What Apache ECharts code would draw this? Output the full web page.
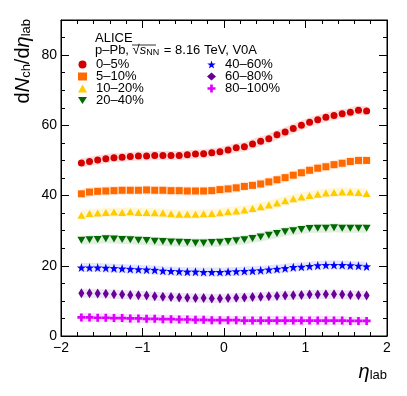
<!DOCTYPE html>
<html>
<head>
<meta charset="utf-8">
<script src="https://cdn.jsdelivr.net/npm/echarts@6/dist/echarts.min.js"></script>
<style>
  html, body { margin: 0; padding: 0; background: #fff; }
  #chart { width: 407px; height: 396px; }
</style>
</head>
<body>
<div id="chart"></div>
<script>
// eta_lab bin centres
const etaBins = [-1.75, -1.65, -1.55, -1.45, -1.35, -1.25, -1.15, -1.05, -0.95, -0.85, -0.75, -0.65,
  -0.55, -0.45, -0.35, -0.25, -0.15, -0.05, 0.05, 0.15, 0.25, 0.35, 0.45, 0.55,
  0.65, 0.75, 0.85, 0.95, 1.05, 1.15, 1.25, 1.35, 1.45, 1.55, 1.65, 1.75]

const c0_5 = [49.3, 49.7, 50.1, 50.5, 50.8, 50.9, 51.1, 51.3, 51.3, 51.4, 51.4, 51.4, 51.4, 51.6, 51.8, 51.9, 52.2, 52.5,
  53.0, 53.6, 53.9, 54.7, 55.5, 56.2, 57.3, 58.1, 59.1, 60.0, 60.9, 61.6, 62.3, 62.8, 63.3, 63.7, 64.3, 64.1]
const c5_10 = [40.5, 41.0, 41.2, 41.3, 41.4, 41.5, 41.5, 41.5, 41.6, 41.5, 41.5, 41.4, 41.4, 41.3, 41.3, 41.3, 41.4, 41.7,
  41.9, 42.2, 42.6, 42.9, 43.3, 43.9, 44.5, 45.1, 45.8, 46.5, 47.2, 47.8, 48.2, 48.8, 49.2, 49.7, 50.0, 50.0]
const c10_20 = [34.4, 34.9, 35.0, 35.2, 35.3, 35.2, 35.4, 35.2, 35.2, 35.1, 35.0, 34.8, 34.7, 34.7, 34.7, 34.8, 34.9, 35.1,
  35.4, 35.6, 35.9, 36.3, 36.8, 37.3, 37.9, 38.5, 39.1, 39.6, 40.0, 40.4, 40.7, 40.9, 41.0, 41.0, 40.9, 40.6]
const c20_40 = [27.3, 27.4, 27.5, 27.7, 27.6, 27.5, 27.4, 27.3, 27.2, 27.0, 26.9, 26.8, 26.7, 26.6, 26.5, 26.5, 26.6, 26.7,
  26.9, 27.1, 27.4, 27.8, 28.2, 28.7, 29.2, 29.7, 30.0, 30.3, 30.6, 30.7, 30.7, 30.8, 30.7, 30.7, 30.7, 30.7]
const c40_60 = [19.5, 19.5, 19.5, 19.4, 19.3, 19.2, 19.1, 19.0, 18.9, 18.8, 18.6, 18.5, 18.4, 18.3, 18.3, 18.2, 18.2, 18.2,
  18.3, 18.4, 18.5, 18.6, 18.7, 18.9, 19.1, 19.3, 19.6, 19.7, 19.9, 20.1, 20.2, 20.2, 20.2, 20.1, 20.0, 19.8]
const c60_80 = [12.2, 12.2, 12.1, 12.0, 11.9, 11.8, 11.7, 11.6, 11.5, 11.3, 11.2, 11.1, 11.0, 10.9, 10.8, 10.8, 10.7, 10.7,
  10.8, 10.9, 11.0, 11.1, 11.2, 11.3, 11.4, 11.5, 11.6, 11.7, 11.8, 11.8, 11.9, 11.9, 11.8, 11.7, 11.6, 11.5]
const c80_100 = [5.3, 5.3, 5.2, 5.2, 5.1, 5.1, 5.0, 5.0, 4.9, 4.9, 4.8, 4.8, 4.7, 4.7, 4.6, 4.6, 4.5, 4.5,
  4.5, 4.5, 4.4, 4.4, 4.4, 4.4, 4.4, 4.4, 4.4, 4.4, 4.4, 4.4, 4.4, 4.4, 4.4, 4.3, 4.3, 4.3]

const classNames = ['0–5%', '5–10%', '10–20%', '20–40%', '40–60%', '60–80%', '80–100%']
const classValues = [c0_5, c5_10, c10_20, c20_40, c40_60, c60_80, c80_100]

const xTicks = [-2, -1, 0, 1, 2]
const yTicks = [0, 20, 40, 60, 80]

const FONT = 'Liberation Sans'

const markers = [
  { color: '#d40000', band: 'rgba(212,0,0,0.14)', symbol: 'circle', size: 7 },
  { color: '#ff6a00', band: 'rgba(255,106,0,0.14)', symbol: 'rect', size: 7 },
  { color: '#ffcc00', band: 'rgba(255,204,0,0.16)', symbol: 'triangle', size: [8, 7] },
  { color: '#006a00', band: 'rgba(0,120,0,0.12)', symbol: 'path://M-5,-4 L5,-4 L0,4 Z', size: [8, 7] },
  { color: '#0000ff', band: 'rgba(0,0,255,0.10)', symbol: 'path://M0,-10 L2.35,-3.24 L9.51,-3.09 L3.8,1.24 L5.88,8.09 L0,4 L-5.88,8.09 L-3.8,1.24 L-9.51,-3.09 L-2.35,-3.24 Z', size: 9 },
  { color: '#660099', band: 'rgba(102,0,153,0.10)', symbol: 'diamond', size: [6, 10] },
  { color: '#dd00ff', band: 'rgba(221,0,255,0.12)', symbol: 'path://M-1,-3 L1,-3 L1,-1 L3,-1 L3,1 L1,1 L1,3 L-1,3 L-1,1 L-3,1 L-3,-1 L-1,-1 Z', size: 8 },
]

const chart = echarts.init(document.getElementById('chart'))

const bandSeries = classValues.map((vals, i) => ({
  type: 'line',
  silent: true,
  smooth: true,
  showSymbol: false,
  data: etaBins.map((x, k) => [x, vals[k]]),
  lineStyle: { color: markers[i].band, width: 9 },
  z: 1,
}))

const pointSeries = classValues.map((vals, i) => ({
  name: classNames[i],
  type: 'scatter',
  data: etaBins.map((x, k) => [x, vals[k]]),
  symbol: markers[i].symbol,
  symbolSize: markers[i].size,
  itemStyle: { color: markers[i].color, opacity: 1 },
  z: 3,
}))

const minus = (v) => String(v).replace('-', '−')

const legendCommon = {
  orient: 'vertical',
  itemWidth: 9,
  itemHeight: 8,
  itemGap: -1,
  selectedMode: false,
  textStyle: { fontFamily: FONT, fontSize: 13, color: '#000', padding: [0, 0, 0, 4] },
}

// shared frame-axis styling (ROOT-like ticks inside on all four sides)
const tickStyle = {
  axisLine: { show: true, onZero: false, lineStyle: { color: '#000' } },
  axisTick: { inside: true, length: 8, lineStyle: { color: '#000' } },
  splitLine: { show: false },
}

chart.setOption({
  animation: false,
  grid: { left: 61, right: 20, top: 20, bottom: 60, show: true, borderColor: '#000', borderWidth: 1 },
  xAxis: [
    Object.assign({
      type: 'value', min: xTicks[0], max: xTicks[xTicks.length - 1], interval: 1,
      minorTick: { show: true, splitNumber: 5, length: 4, lineStyle: { color: '#000' } },
      axisLabel: { fontFamily: FONT, fontSize: 14, color: '#000', margin: 5, formatter: minus },
    }, tickStyle),
    Object.assign({
      type: 'value', position: 'top', min: xTicks[0], max: xTicks[xTicks.length - 1], interval: 1,
      minorTick: { show: true, splitNumber: 5, length: 4, lineStyle: { color: '#000' } },
      axisLabel: { show: false },
    }, tickStyle),
  ],
  yAxis: [
    Object.assign({
      type: 'value', min: yTicks[0], max: 90, interval: 20,
      minorTick: { show: true, splitNumber: 4, length: 4, lineStyle: { color: '#000' } },
      axisLabel: { fontFamily: FONT, fontSize: 14, color: '#000', margin: 4, showMaxLabel: false },
    }, tickStyle),
    Object.assign({
      type: 'value', position: 'right', min: yTicks[0], max: 90, interval: 20,
      minorTick: { show: true, splitNumber: 4, length: 4, lineStyle: { color: '#000' } },
      axisLabel: { show: false },
    }, tickStyle),
  ],
  legend: [
    Object.assign({ left: 73, top: 53, data: classNames.slice(0, 4) }, legendCommon),
    Object.assign({ left: 202, top: 53, data: classNames.slice(4) }, legendCommon),
  ],
  graphic: [
    {
      type: 'text', left: 95, top: 32,
      style: { text: 'ALICE', fontFamily: FONT, fontSize: 13, fill: '#000' },
    },
    {
      type: 'text', left: 95, top: 44,
      style: {
        text: '{n|p–Pb, √}{i|s}{s|NN}{n| = 8.16 TeV, V0A}',
        fill: '#000',
        rich: {
          n: { fontFamily: FONT, fontSize: 13, verticalAlign: 'bottom', lineHeight: 14 },
          i: { fontFamily: FONT, fontSize: 13, fontStyle: 'italic', verticalAlign: 'bottom', lineHeight: 14 },
          s: { fontFamily: FONT, fontSize: 9, verticalAlign: 'bottom', lineHeight: 9, padding: [0, 1, 0, 0] },
        },
      },
    },
    {
      type: 'line', shape: { x1: 132, y1: 45, x2: 156, y2: 45 }, style: { stroke: '#000', lineWidth: 0.8 },
    },
    {
      type: 'text', x: 22, y: 19, rotation: Math.PI / 2,
      style: {
        text: '{n|d}{i|N}{s|ch}{n|/d}{i|η}{s|lab}',
        align: 'right', verticalAlign: 'middle', fill: '#000',
        rich: {
          n: { fontFamily: FONT, fontSize: 20, verticalAlign: 'bottom', lineHeight: 22 },
          i: { fontFamily: FONT, fontSize: 20, fontStyle: 'italic', verticalAlign: 'bottom', lineHeight: 22 },
          s: { fontFamily: FONT, fontSize: 13, verticalAlign: 'bottom', lineHeight: 13 },
        },
      },
    },
    {
      type: 'text', right: 20, top: 362,
      style: {
        text: '{i|η}{s|lab}',
        fill: '#000',
        rich: {
          i: { fontFamily: FONT, fontSize: 20, fontStyle: 'italic', verticalAlign: 'bottom', lineHeight: 22 },
          s: { fontFamily: FONT, fontSize: 13, verticalAlign: 'bottom', lineHeight: 13 },
        },
      },
    },
  ],
  series: [...bandSeries, ...pointSeries],
})
</script>
</body>
</html>
